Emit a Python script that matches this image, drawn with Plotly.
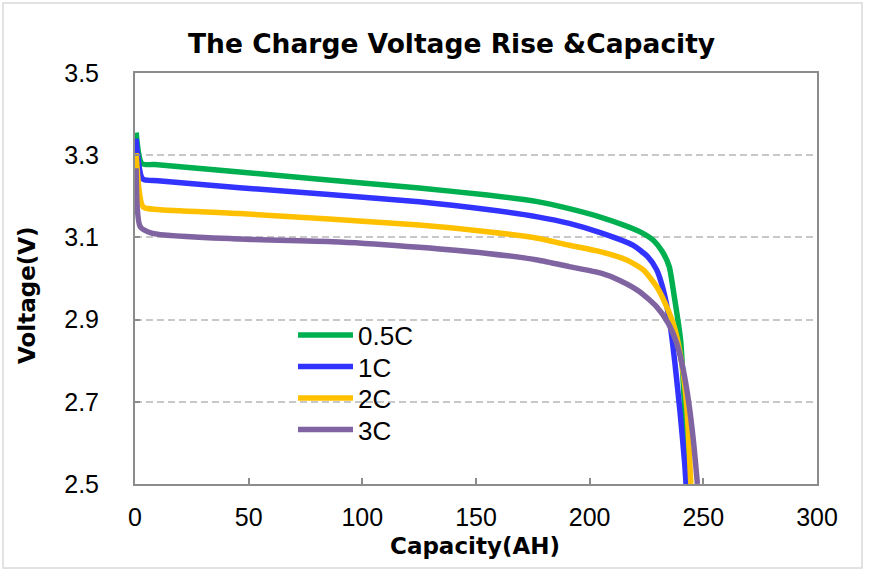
import plotly.graph_objects as go

# Discharge curves: capacity (AH) vs. voltage (V) at four C-rates
cap_05c = [0.5, 3, 10, 46, 80, 125, 155, 177, 191, 205, 215, 222, 228, 232, 235, 237, 240, 241.8, 243.5]
volt_05c = [3.355, 3.28, 3.277, 3.259, 3.242, 3.220, 3.203, 3.187, 3.170, 3.149, 3.130, 3.114, 3.093, 3.065, 3.029, 2.964, 2.850, 2.68, 2.50]

cap_1c = [0.5, 3.4, 10, 46, 125, 155, 177, 191, 205, 219, 225.5, 229.5, 232.4, 235.3, 237.5, 239.8, 241.8, 242.4]
volt_1c = [3.34, 3.242, 3.238, 3.221, 3.187, 3.168, 3.150, 3.134, 3.111, 3.081, 3.053, 3.021, 2.972, 2.891, 2.794, 2.672, 2.55, 2.50]

cap_2c = [0.5, 3.6, 10, 46, 125, 155, 177, 191, 205, 216.3, 223.6, 229.5, 233.9, 237.6, 240.5, 242.7, 244.5]
volt_2c = [3.305, 3.174, 3.168, 3.158, 3.130, 3.114, 3.098, 3.081, 3.065, 3.045, 3.021, 2.98, 2.931, 2.875, 2.794, 2.688, 2.50]

cap_3c = [0.5, 2.3, 7.7, 46, 90, 125, 155, 177, 191, 205, 213, 222, 229.5, 234.6, 238.3, 241.2, 243.4, 245.6, 247.4]
volt_3c = [3.268, 3.126, 3.110, 3.096, 3.089, 3.076, 3.061, 3.045, 3.029, 3.013, 2.996, 2.968, 2.931, 2.891, 2.842, 2.777, 2.705, 2.607, 2.50]

series_names = ["0.5C", "1C", "2C", "3C"]
series_caps = [cap_05c, cap_1c, cap_2c, cap_3c]
series_volts = [volt_05c, volt_1c, volt_2c, volt_3c]
series_colors = ["#00B050", "#3333FF", "#FFC000", "#8064A2"]

x_ticks = [0, 50, 100, 150, 200, 250, 300]
y_ticks = [2.5, 2.7, 2.9, 3.1, 3.3, 3.5]

W, H = 873, 571
ML, MR, MT, MB = 135, 56, 73, 87
PW, PH = W - ML - MR, H - MT - MB


def px_x(p):
    return (p - ML) / PW


def px_y(p):
    return (H - MB - p) / PH


# one legend box per series so the rows can sit at fixed pixel rows
legend_ids = ["legend", "legend2", "legend3", "legend4"]
legend_rows_px = [335, 366.5, 398, 429.5]

fig = go.Figure()
for name, xs, ys, col, lg in zip(series_names, series_caps, series_volts, series_colors, legend_ids):
    fig.add_trace(go.Scatter(
        x=xs, y=ys, name=name, mode="lines", legend=lg,
        line=dict(color=col, width=5.5, shape="spline", smoothing=0.6),
    ))

tick_font = dict(family="Arial, Liberation Sans, sans-serif", size=25, color="#000000")
legend_font = dict(family="Arial, Liberation Sans, sans-serif", size=26, color="#000000")
title_font = "DejaVu Sans, Arial, sans-serif"

legend_layouts = {}
for lg, row in zip(legend_ids, legend_rows_px):
    legend_layouts[lg] = dict(
        x=px_x(293), y=px_y(row), xanchor="left", yanchor="middle",
        bgcolor="rgba(0,0,0,0)", borderwidth=0, font=legend_font,
        itemwidth=55, tracegroupgap=0,
    )

fig.update_layout(
    width=W, height=H,
    margin=dict(l=ML, r=MR, t=MT, b=MB),
    paper_bgcolor="#FFFFFF", plot_bgcolor="#FFFFFF",
    showlegend=True,
    **legend_layouts,
    xaxis=dict(
        range=[0, 300], tickvals=x_ticks, ticktext=[str(v) for v in x_ticks],
        showgrid=False, zeroline=False,
        showline=True, linecolor="#8C8C8C", linewidth=2, mirror=True,
        ticks="inside", ticklen=6, tickwidth=1.5, tickcolor="#8C8C8C",
        tickfont=tick_font, ticklabelstandoff=10,
    ),
    yaxis=dict(
        range=[2.5, 3.5], tickvals=y_ticks, ticktext=[f"{v:.1f}" for v in y_ticks],
        showgrid=True, gridcolor="#C8C8C8", gridwidth=1.5, griddash="7px,4px",
        zeroline=False,
        showline=True, linecolor="#8C8C8C", linewidth=2, mirror=True,
        ticks="inside", ticklen=5, tickwidth=1.5, tickcolor="#8C8C8C",
        tickfont=tick_font, ticklabelstandoff=29,
    ),
    shapes=[
        # white panel behind the legend, hiding the gridlines there
        dict(type="rect", xref="paper", yref="paper",
             x0=px_x(264), x1=px_x(455), y0=px_y(445), y1=px_y(323),
             fillcolor="#FFFFFF", line=dict(width=0), layer="between"),
        # outer chart frame
        dict(type="rect", xref="paper", yref="paper",
             x0=px_x(3), x1=px_x(862), y0=px_y(568), y1=px_y(3),
             fillcolor="rgba(0,0,0,0)", line=dict(color="#D9D9D9", width=1.5), layer="below"),
    ],
    annotations=[
        dict(text="<b>The Charge Voltage Rise &Capacity</b>", xref="paper", yref="paper",
             x=px_x(451.5), y=px_y(43), xanchor="center", yanchor="middle", showarrow=False,
             font=dict(family=title_font, size=26.5, color="#000000")),
        dict(text="<b>Capacity(AH)</b>", xref="paper", yref="paper",
             x=px_x(475), y=px_y(546), xanchor="center", yanchor="middle", showarrow=False,
             font=dict(family=title_font, size=23, color="#000000")),
        dict(text="<b>Voltage(V)</b>", xref="paper", yref="paper",
             x=px_x(27), y=px_y(295), xanchor="center", yanchor="middle", showarrow=False,
             textangle=-90,
             font=dict(family=title_font, size=23, color="#000000")),
    ],
)

fig.write_html("out.html")
